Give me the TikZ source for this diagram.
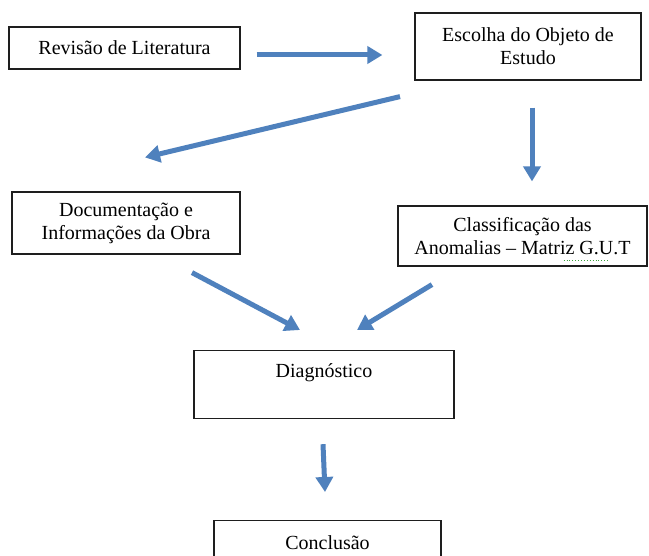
\documentclass[tikz,border=0pt]{standalone}
\usepackage{fontspec}
\setmainfont{Liberation Serif}
\usetikzlibrary{arrows.meta,calc}
\definecolor{flowblue}{RGB}{79,129,189}
\definecolor{boxline}{RGB}{30,30,30}
\definecolor{spellgreen}{RGB}{60,160,60}
\begin{document}
\begin{tikzpicture}[x=1pt,y=-1pt,
  box/.style={draw=boxline,line width=1.2pt,fill=white,align=center,
    inner sep=0pt,font=\fontsize{20}{23}\selectfont},
  flow/.style={draw=flowblue,line width=5pt,
    -{Triangle[length=15pt,width=17pt]}}]
\useasboundingbox[fill=white] (0,0) rectangle (649,556);

% boxes
\node[box,minimum width=231pt,minimum height=42pt] (rev) at (124.5,48) {Revisão de Literatura};
\node[box,minimum width=226pt,minimum height=67pt] (esc) at (528,46.5) {Escolha do Objeto de\\Estudo};
\node[box,minimum width=228pt,minimum height=62pt] (doc) at (126,223) {Documentação e\\Informações da Obra};
\node[box,minimum width=249pt,minimum height=60pt] (cla) at (522.5,236) {Classificação das\\Anomalias -- Matriz G.U.T};
\node[box,anchor=north,minimum width=260pt,inner sep=5pt,text height=22pt,text depth=36pt] (dia) at (324,350) {Diagnóstico};
\node[box,anchor=north,minimum width=227pt,inner sep=5pt,text height=24pt,text depth=20pt] (con) at (327.5,520) {Conclusão};

% spell-check mark under G.U.T
\draw[spellgreen,line width=0.9pt,dotted] ($(cla.south east)+(-84,-6)$) -- ($(cla.south east)+(-38,-6)$);

% connectors
\draw[flow] ($(rev.east)+(16,7)$) -- ($(esc.west)+(-32,8.5)$);
\draw[flow] ($(esc.south)+(-128,16)$) -- ($(doc.north)+(19,-34)$);
\draw[flow] ($(esc.south)+(4,27)$) -- ($(cla.north)+(9.5,-24)$);
\draw[flow] ($(doc.south)+(66,18)$) -- ($(dia.north)+(-24,-20)$);
\draw[flow] ($(cla.south)+(-90.5,18)$) -- ($(dia.north)+(33,-20)$);
\draw[flow] ($(dia.south)+(-1,25)$) -- ($(con.north)+(-2.5,-28)$);
\end{tikzpicture}
\end{document}
